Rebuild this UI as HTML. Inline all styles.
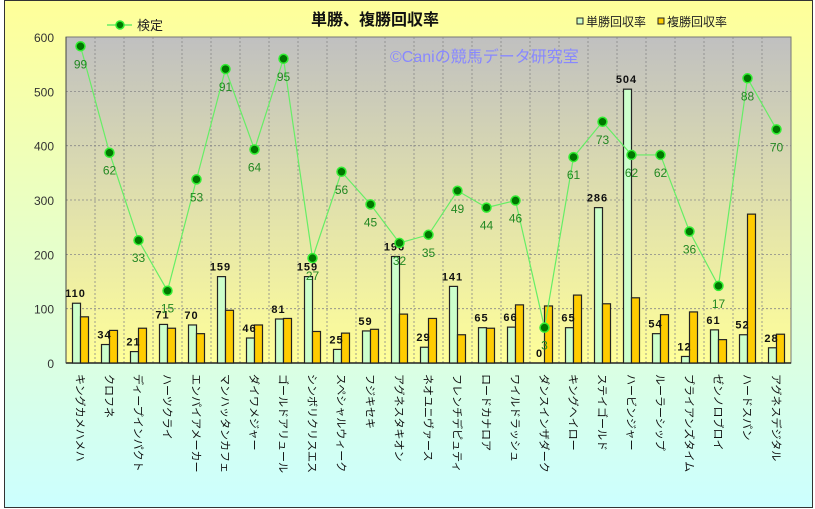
<!DOCTYPE html>
<html><head><meta charset="utf-8"><style>
body{margin:0;width:815px;height:509px;overflow:hidden;background:#fff}
svg{display:block;font-family:"Liberation Sans","Noto Sans CJK JP",sans-serif}
</style></head><body>
<svg width="815" height="509" xmlns="http://www.w3.org/2000/svg">
<defs>
<linearGradient id="bg" x1="0" y1="0" x2="0" y2="1"><stop offset="0" stop-color="#ffff99"/><stop offset="1" stop-color="#ccffff"/></linearGradient>
<linearGradient id="pg" x1="0" y1="0" x2="0" y2="1"><stop offset="0" stop-color="#c0c0c0"/><stop offset="1" stop-color="#ffff99"/></linearGradient>
</defs>
<rect x="4.5" y="0.5" width="808" height="507" fill="url(#bg)" stroke="#333"/>
<rect x="66" y="37" width="725" height="326" fill="url(#pg)" stroke="#777"/>
<g id="grid" stroke="#888" stroke-dasharray="2,2" stroke-width="0.8"></g>
<line x1="66" y1="363" x2="791" y2="363" stroke="#222" stroke-width="1.5"/>
<line x1="66" y1="37" x2="66" y2="363" stroke="#444"/>
<text x="375" y="25" font-size="16" font-weight="bold" text-anchor="middle" fill="#111">単勝、複勝回収率</text>
<text x="390" y="62" font-size="16" fill="#8888ff">©Caniの競馬データ研究室</text>
<line x1="107" y1="25" x2="132" y2="25" stroke="#66ee66" stroke-width="1.5"/>
<circle cx="120" cy="25" r="4" fill="#007700" stroke="#33ee33" stroke-width="1.5"/>
<text x="137" y="30" font-size="13" fill="#222">検定</text>
<rect x="577" y="18" width="6" height="6" fill="#ccffcc" stroke="#222"/>
<text x="586" y="26" font-size="12" fill="#222">単勝回収率</text>
<rect x="658" y="18" width="6" height="6" fill="#ffcc00" stroke="#222"/>
<text x="667" y="26" font-size="12" fill="#222">複勝回収率</text>
<g id="ax" font-size="12" fill="#333" text-anchor="end"></g>
<g id="bars"></g>
<g id="line"></g>
<g id="cats" font-size="11" fill="#111"></g>
</svg>
<script>
const ns="http://www.w3.org/2000/svg";
function el(p,t,a,txt){const e=document.createElementNS(ns,t);for(const k in a)e.setAttribute(k,a[k]);if(txt!=null)e.textContent=txt;document.getElementById(p).appendChild(e);return e;}
const Y=v=>363-v*0.5433;
for(let v=100;v<=500;v+=100)el('grid','line',{x1:66,x2:791,y1:Y(v),y2:Y(v)});
for(let i=1;i<25;i++)el('grid','line',{x1:66+29*i,x2:66+29*i,y1:37,y2:363});
for(let v=0;v<=600;v+=100)el('ax','text',{x:54,y:Y(v)+5},v);
const names=["キングカメハメハ","クロフネ","ディープインパクト","ハーツクライ","エンパイアメーカー","マンハッタンカフェ","ダイワメジャー","ゴールドアリュール","シンボリクリスエス","スペシャルウィーク","フジキセキ","アグネスタキオン","ネオユニヴァース","フレンチデピュティ","ロードカナロア","ワイルドラッシュ","ダンスインザダーク","キングヘイロー","ステイゴールド","ハービンジャー","ルーラーシップ","ブライアンズタイム","ゼンノロブロイ","ハードスパン","アグネスデジタル"];
const t=[110,34,21,71,70,159,46,81,159,25,59,196,29,141,65,66,0,65,286,504,54,12,61,52,28];
const f=[85,60,64,64,54,97,70,82,58,55,62,90,82,52,64,107,105,125,109,120,89,94,43,274,53];
const ly=[583,387,226,133,338,541,393,560,193,352,292,221,236,317,286,299,65,379,444,383,383,242,142,524,430];
const ll=[99,62,33,15,53,91,64,95,27,56,45,32,35,49,44,46,3,61,73,62,62,36,17,88,70];
let pts=[];
for(let i=0;i<25;i++){
 const c=80.5+29*i;
 el('bars','rect',{x:c-8,y:Y(t[i]),width:8,height:t[i]*0.5433,fill:'#ccffcc',stroke:'#222','stroke-width':1.2});
 el('bars','rect',{x:c,y:Y(f[i]),width:8,height:f[i]*0.5433,fill:'#ffcc00',stroke:'#222','stroke-width':1.2});
 el('bars','text',{x:c-5,y:Y(t[i])-6,'font-size':11,'font-weight':'bold','text-anchor':'middle',fill:'#111','letter-spacing':'1'},t[i]);
 pts.push(c+','+Y(ly[i]));
 el('cats','text',{x:0,y:0,transform:`translate(${c-4},374) rotate(90)`},names[i]);
}
el('line','polyline',{points:pts.join(' '),fill:'none',stroke:'#66ee66','stroke-width':1.2});
for(let i=0;i<25;i++){
 const c=80.5+29*i,y=Y(ly[i]);
 el('line','circle',{cx:c,cy:y,r:4.5,fill:'#007700',stroke:'#33ee33','stroke-width':1.5});
 el('line','text',{x:c,y:y+22,'font-size':12,'text-anchor':'middle',fill:'#228822'},ll[i]);
}
</script>
</body></html>
